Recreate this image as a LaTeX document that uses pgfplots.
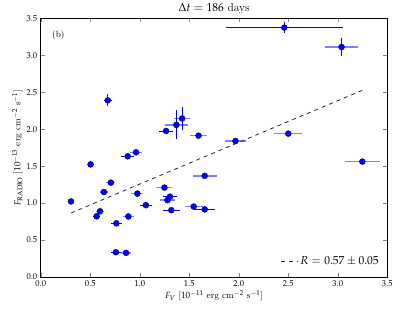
\documentclass[border=0pt]{standalone}
\usepackage{mathpazo}
\usepackage{pgfplots}
\usepackage{pgfplotstable}
\pgfplotsset{compat=1.18}
\definecolor{darkbar}{rgb}{0,0,1}
\definecolor{lightbar}{rgb}{0.5,0.5,1}
\pgfplotsset{
  lightbars/.style={error bars/draw error bar/.code 2 args={\draw[lightbar, line width=1.6pt] ##1 -- ##2;}},
  darkbars/.style={error bars/draw error bar/.code 2 args={\draw[darkbar, line width=0.9pt] ##1 -- ##2;}},
}
\pgfplotstableread{
x y exd exl ey
0.306 1.022 0 0 0
0.504 1.523 0 0.035 0.04
0.677 2.390 0.04 0 0.08
0.565 0.821 0.035 0 0.02
0.599 0.889 0 0.04 0.02
0.638 1.150 0 0.04 0.03
0.708 1.277 0 0.045 0.02
0.764 0.726 0.054 0 0.02
0.759 0.335 0.05 0 0.02
0.862 0.327 0 0.05 0.02
0.879 1.633 0.065 0 0.03
0.885 0.819 0 0.057 0.02
0.963 1.687 0 0.06 0.02
0.976 1.128 0 0.06 0.045
1.062 0.972 0.06 0 0.03
1.249 1.209 0 0.08 0.02
1.266 1.976 0.072 0 0.02
1.280 1.040 0 0.072 0.02
1.305 1.087 0.075 0 0.03
1.319 0.904 0.087 0 0.02
1.370 2.058 0 0.117 0.196
1.428 2.145 0 0.077 0.15
1.545 0.953 0 0.09 0.02
1.594 1.912 0 0.09 0.02
1.656 0.915 0.108 0 0.02
1.656 1.369 0 0.12 0.02
1.967 1.840 0 0.11 0.02
2.460 3.374 0.59 0 0.072
2.500 1.940 0 0.143 0.02
3.038 3.112 0 0.17 0.117
3.248 1.561 0 0.18 0.02
}\data
\begin{document}
\begin{tikzpicture}
\begin{axis}[
  name=ax,
  scale only axis,
  width=346.6pt, height=258.7pt,
  xmin=0, xmax=3.5, ymin=0, ymax=3.5,
  xtick={0,0.5,...,3.5}, ytick={0,0.5,...,3.5},
  xticklabel style={/pgf/number format/.cd,fixed,fixed zerofill,precision=1},
  yticklabel style={/pgf/number format/.cd,fixed,fixed zerofill,precision=1},
  tick label style={font=\fontsize{8.5}{10}\selectfont},
  label style={font=\fontsize{9}{11}\selectfont},
  tick align=inside,
  major tick length=4pt,
  axis line style={line width=0.7pt},
  xlabel={$F_V$ [$10^{-11}$ erg cm$^{-2}$ s$^{-1}$]},
  ylabel={$F_{\mathrm{RADIO}}$ [$10^{-13}$ erg cm$^{-2}$ s$^{-1}$]},
  xlabel style={yshift=3pt},
  ylabel style={yshift=-3pt},
  title={$\Delta t = 186$ days},
  title style={font=\fontsize{11.5}{13}\selectfont, yshift=-5pt},
  legend style={at={(0.99,0.025)}, anchor=south east, draw=none, fill=none,
    font=\fontsize{11.5}{13}\selectfont},
  legend cell align=left,
  clip=false,
]
\addplot[forget plot, draw=none, mark=none, lightbars,
  error bars/.cd, x dir=both, x explicit]
  table[x=x, y=y, x error=exl] {\data};
\addplot[forget plot, draw=none, mark=none, darkbars,
  error bars/.cd, x dir=both, x explicit]
  table[x=x, y=y, x error=exd] {\data};
\addplot[forget plot, draw=none, mark=none, darkbars,
  error bars/.cd, y dir=both, y explicit]
  table[x=x, y=y, y error=ey] {\data};
\addplot[forget plot, only marks, mark=*, mark size=3pt,
  mark options={fill=blue, draw=blue!40!black, line width=0.4pt}]
  table[x=x, y=y] {\data};
\addplot[black!85, line width=0.8pt, dashed, dash pattern=on 4pt off 4pt]
  coordinates {(0.306,0.866) (3.248,2.526)};
\addlegendentry{$R = 0.57 \pm 0.05$}
\node[anchor=west, font=\fontsize{9}{11}\selectfont] at (axis cs:0.08,3.27) {(b)};
\end{axis}
\path ([shift={(-40.7pt,-31pt)}]ax.south west) rectangle ([shift={(19.7pt,15.3pt)}]ax.north east);
\end{tikzpicture}
\end{document}
